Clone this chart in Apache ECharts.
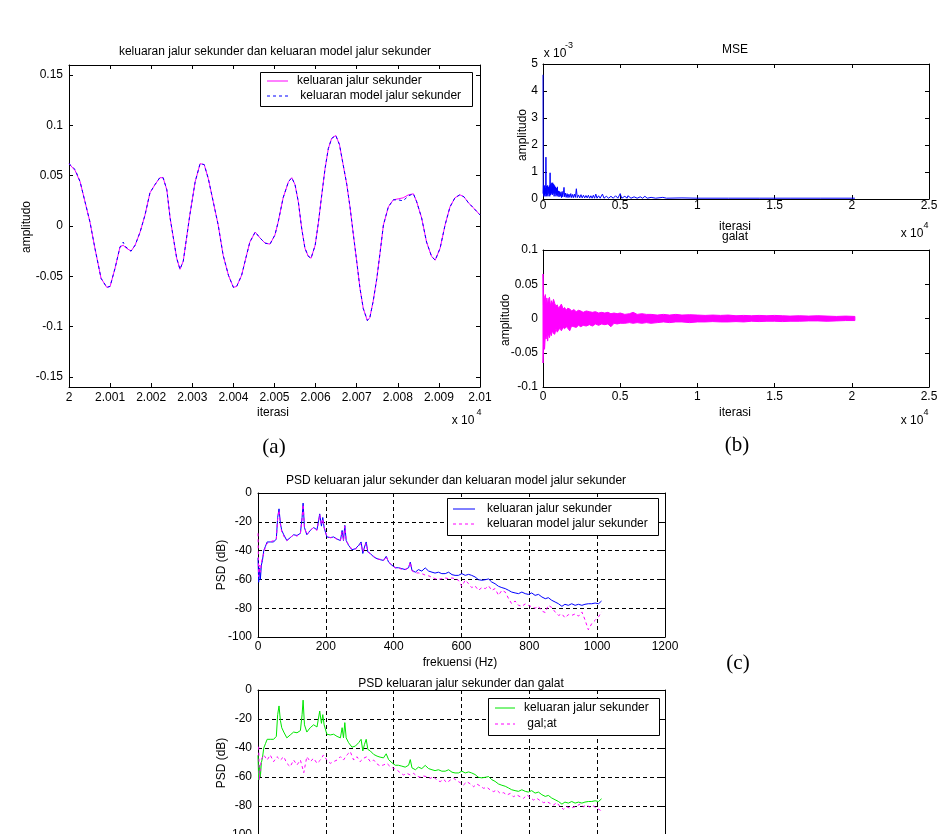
<!DOCTYPE html>
<html>
<head>
<meta charset="utf-8">
<title>keluaran jalur sekunder dan keluaran model jalur sekunder</title>
<script src="https://cdn.jsdelivr.net/npm/echarts@6.0.0/dist/echarts.min.js"></script>
<style>
html, body { margin: 0; padding: 0; background: #fff; }
#chart { width: 952px; height: 834px; }
</style>
</head>
<body>
<div id="chart"></div>
<script>
// (a) iterasi offset from 20000, output of secondary path and its model
const iterA = [0, 1.5, 2.7, 3.9, 5.1, 6.3, 7.8, 9.2, 10, 11.2, 12.4, 13.2, 13.6, 15.1, 16.1, 17.3, 18.5, 19.7, 20.9, 22.1,
  22.9, 23.8, 24.6, 25.4, 26.2, 27, 27.8, 28.6, 29.4, 30.7, 31.9, 32.9, 33.9, 35.1, 36.3, 37.5, 38.8, 40, 40.8, 42,
  43.2, 44, 45.3, 46.5, 47.7, 48.9, 50.1, 50.9, 52.1, 53.4, 54.2, 55, 55.8, 56.6, 57.4, 58.2, 58.9, 59.9, 60.7, 61.5,
  62.3, 63.1, 63.9, 64.9, 65.8, 66.7, 67.6, 68.4, 69.2, 70, 70.8, 71.6, 72.6, 73.2, 74, 74.9, 75.7, 76.5, 77.7, 78.9,
  80.1, 81.3, 82.6, 83.8, 84.6, 85.8, 87, 88.2, 89.1, 90.3, 91.5, 92.7, 93.9, 95.1, 96.1, 97.2, 98.4, 100]
const outSec = [0.062, 0.055, 0.044, 0.024, 0.004, -0.022, -0.052, -0.061, -0.060, -0.042, -0.021, -0.019, -0.021, -0.025, -0.019, -0.006, 0.011, 0.033, 0.041, 0.048,
  0.048, 0.036, 0.008, -0.012, -0.032, -0.043, -0.035, -0.012, 0.011, 0.044, 0.062, 0.061, 0.047, 0.024, 0.001, -0.029, -0.049, -0.061, -0.060, -0.049,
  -0.029, -0.016, -0.006, -0.012, -0.017, -0.018, -0.009, 0.004, 0.028, 0.044, 0.048, 0.041, 0.024, -0.002, -0.022, -0.030, -0.032, -0.019, 0.004, 0.031,
  0.057, 0.077, 0.087, 0.090, 0.081, 0.061, 0.041, 0.018, -0.009, -0.035, -0.062, -0.082, -0.094, -0.091, -0.075, -0.052, -0.026, 0.001, 0.019, 0.026,
  0.027, 0.028, 0.031, 0.032, 0.024, 0.008, -0.016, -0.030, -0.034, -0.022, 0.001, 0.019, 0.028, 0.031, 0.029, 0.023, 0.018, 0.011]
const outModel = [0.062, 0.056, 0.044, 0.024, 0.004, -0.022, -0.052, -0.061, -0.060, -0.042, -0.021, -0.016, -0.020, -0.025, -0.019, -0.006, 0.011, 0.033, 0.041, 0.048,
  0.048, 0.036, 0.008, -0.012, -0.032, -0.043, -0.035, -0.012, 0.011, 0.044, 0.062, 0.061, 0.047, 0.024, 0.001, -0.029, -0.049, -0.061, -0.060, -0.049,
  -0.029, -0.016, -0.006, -0.012, -0.017, -0.018, -0.009, 0.004, 0.028, 0.044, 0.048, 0.041, 0.024, -0.002, -0.022, -0.030, -0.032, -0.019, 0.004, 0.031,
  0.057, 0.077, 0.087, 0.090, 0.081, 0.061, 0.041, 0.018, -0.009, -0.035, -0.062, -0.082, -0.094, -0.091, -0.075, -0.052, -0.026, 0.001, 0.019, 0.026,
  0.026, 0.025, 0.030, 0.032, 0.024, 0.008, -0.016, -0.030, -0.034, -0.022, 0.001, 0.019, 0.028, 0.031, 0.029, 0.023, 0.018, 0.011]
const ticksA = [-0.15, -0.1, -0.05, 0, 0.05, 0.1, 0.15]

// (b) MSE (x 10^-3), peaks and troughs
const mseIter = [0, 15, 30, 50, 70, 90, 110, 130, 150, 170, 190, 210, 230, 260, 290, 320, 350, 380, 410, 440,
  460, 480, 510, 540, 570, 600, 630, 660, 690, 720, 750, 780, 810, 840, 870, 900, 930, 960, 1000, 1040,
  1080, 1120, 1160, 1200, 1240, 1280, 1330, 1360, 1400, 1450, 1500, 1560, 1620, 1680, 1740, 1800, 1860, 1920, 1980, 2040,
  2100, 2160, 2220, 2300, 2380, 2460, 2540, 2620, 2700, 2780, 2860, 2940, 3020, 3100, 3180, 3260, 3340, 3420, 3500, 3600,
  3700, 3850, 3950, 4100, 4250, 4400, 4550, 4700, 4850, 5000, 5100, 5300, 5450, 5500, 5700, 5900, 6100, 6300, 6450, 6600,
  6750, 7000, 7300, 7760, 8000, 9000, 10000, 12000, 14000, 16000, 18000, 20200]
const mseVal = [4.6, 0.2, 0.5, 0.1, 0.45, 0.15, 0.5, 0.1, 0.4, 0.2, 1.55, 0.1, 0.48, 0.15, 0.5, 0.1, 0.45, 0.2, 0.5, 0.1,
  0.97, 0.15, 0.55, 0.2, 0.6, 0.15, 0.6, 0.2, 0.55, 0.1, 0.5, 0.2, 0.45, 0.1, 0.4, 0.15, 0.45, 0.1, 0.3, 0.08,
  0.28, 0.1, 0.25, 0.05, 0.28, 0.08, 0.25, 0.43, 0.08, 0.22, 0.06, 0.2, 0.05, 0.18, 0.06, 0.2, 0.05, 0.17, 0.05, 0.18,
  0.06, 0.38, 0.05, 0.15, 0.04, 0.16, 0.04, 0.14, 0.04, 0.13, 0.04, 0.14, 0.03, 0.12, 0.03, 0.14, 0.03, 0.18, 0.03, 0.12,
  0.03, 0.18, 0.03, 0.1, 0.03, 0.1, 0.03, 0.12, 0.03, 0.2, 0.03, 0.1, 0.03, 0.12, 0.03, 0.08, 0.03, 0.08, 0.03, 0.1,
  0.03, 0.06, 0.03, 0.06, 0.03, 0.04, 0.03, 0.03, 0.03, 0.03, 0.03, 0.03]

// (b) galat envelope
const galatIter = [0, 30, 60, 100, 150, 200, 250, 300, 350, 420, 480, 540, 600, 680, 760, 840, 920, 1000, 1100, 1190,
  1300, 1400, 1500, 1600, 1730, 1850, 2000, 2150, 2300, 2450, 2600, 2800, 3000, 3200, 3400, 3600, 3800, 4000, 4200, 4400,
  4600, 4800, 5000, 5300, 5600, 5840, 6100, 6400, 6700, 7000, 7400, 7800, 8200, 8600, 9000, 9500, 10000, 10500, 11000, 11500,
  12000, 12500, 13000, 13500, 14000, 14500, 15000, 15500, 16000, 16600, 17200, 17800, 18400, 19000, 19600, 20200]
const galatHi = [0.065, 0.02, 0.033, 0.025, 0.035, 0.022, 0.03, 0.02, 0.028, 0.031, 0.018, 0.026, 0.02, 0.028, 0.022, 0.018, 0.02, 0.015, 0.018, 0.021,
  0.014, 0.016, 0.012, 0.015, 0.014, 0.011, 0.013, 0.01, 0.012, 0.011, 0.009, 0.011, 0.01, 0.009, 0.01, 0.008, 0.009, 0.008, 0.009, 0.007,
  0.008, 0.007, 0.008, 0.006, 0.007, 0.009, 0.006, 0.007, 0.006, 0.006, 0.005, 0.006, 0.005, 0.006, 0.005, 0.0055, 0.005, 0.0045, 0.005, 0.0045,
  0.005, 0.004, 0.0045, 0.004, 0.0045, 0.004, 0.0045, 0.004, 0.0035, 0.004, 0.0035, 0.004, 0.0035, 0.003, 0.0035, 0.003]
const galatLo = [-0.065, -0.04, -0.02, -0.045, -0.025, -0.03, -0.02, -0.033, -0.022, -0.028, -0.02, -0.025, -0.018, -0.022, -0.023, -0.015, -0.02, -0.017, -0.014, -0.018,
  -0.013, -0.015, -0.012, -0.014, -0.018, -0.011, -0.012, -0.013, -0.01, -0.012, -0.01, -0.011, -0.009, -0.011, -0.008, -0.01, -0.008, -0.009, -0.008, -0.012,
  -0.007, -0.008, -0.007, -0.007, -0.006, -0.007, -0.006, -0.007, -0.006, -0.007, -0.006, -0.005, -0.006, -0.005, -0.005, -0.006, -0.005, -0.005, -0.0045, -0.005,
  -0.005, -0.0045, -0.005, -0.004, -0.0045, -0.004, -0.004, -0.0045, -0.004, -0.004, -0.0035, -0.0035, -0.004, -0.0035, -0.003, -0.003]

// (c) PSD in dB
const psdFreq = [0, 2, 5, 7, 10, 13, 17, 22, 27, 36, 46, 54, 58, 62, 66, 70, 76, 85, 95, 105,
  115, 125, 130, 133, 137, 144, 154, 164, 174, 182, 187, 191, 195, 203, 213, 223, 233, 243, 248, 252,
  256, 260, 267, 277, 287, 297, 304, 309, 314, 319, 324, 331, 341, 351, 360, 370, 378, 385, 395, 405,
  414, 424, 434, 444, 449, 454, 464, 473, 483, 493, 503, 513, 522, 532, 542, 552, 562, 572, 581, 591,
  601, 611, 621, 630, 640, 650, 660, 670, 680, 689, 699, 709, 719, 729, 739, 748, 758, 768, 778, 788,
  797, 807, 817, 827, 837, 847, 856, 866, 876, 886, 896, 905, 915, 925, 935, 945, 955, 964, 974, 984,
  994, 1004, 1013]
const psdSec = [-45, -62, -52, -60, -50, -47, -40, -37, -34, -34, -34, -32, -17, -11, -21, -26, -29, -33, -31, -29,
  -29.5, -28, -17, -7, -24, -29, -26, -24, -25.5, -14.5, -23, -17, -24, -30.5, -31, -30.5, -32, -33, -26, -33,
  -22.5, -33, -36.3, -39.4, -38.7, -36.3, -34, -42, -37.5, -34, -41, -42, -44.4, -45.6, -46.3, -46.8, -44, -48, -50.2, -51.9,
  -51.9, -52.5, -53.2, -51.9, -48, -53.7, -55, -53.2, -54.2, -52, -54.2, -55, -55.6, -55, -56, -56, -55, -56.7, -57.2, -57.2,
  -56, -57.2, -56.5, -57.2, -58.3, -60.2, -60.6, -60.2, -59.7, -61.8, -63, -64.8, -65.7, -66.4, -67.6, -68.8, -69.4, -69.9, -68.8, -69.9,
  -70.4, -69.4, -71.1, -70.4, -72.2, -73.4, -72.7, -74.5, -75.7, -76.9, -78.7, -77.3, -78, -76.9, -78, -77.3, -78, -77.3, -76.9, -76.9,
  -76.4, -76.9, -75]
const psdModel = [-28, -58, -50, -55, -48, -45, -42, -37, -35, -34, -33, -32, -18, -12, -22, -27, -30, -33, -31, -29,
  -30, -28, -18, -8, -24, -29, -26, -24, -26, -15, -22, -18, -24, -30, -31, -31, -32, -33, -27, -33,
  -23, -33, -36, -39, -39, -37, -35, -41, -38, -35, -41, -42, -44, -46, -46, -47, -44, -48, -50, -52,
  -52, -53, -53, -52, -48, -54, -55.5, -55.5, -56, -57, -57.5, -58.5, -59.5, -60, -59.5, -59, -59.5, -59, -59.5, -60.6,
  -64.8, -60.5, -63, -65.7, -64.5, -67.6, -65.7, -66.4, -64.5, -67.6, -66.4, -71, -67.6, -68.8, -73.4, -76.9, -75, -78, -78.7, -77,
  -78, -79, -80, -78.7, -82, -83, -78, -79.5, -82.6, -85, -84, -86.6, -84.5, -85, -84, -85.5, -82.6, -88, -95, -90.7,
  -88.4, -86, -82.6]
const galatFreq = [2, 4, 9, 17, 27, 36, 46, 56, 66, 76, 85, 95, 105, 115, 125, 135, 144, 154, 164, 174,
  184, 193, 203, 213, 223, 233, 243, 252, 262, 272, 282, 292, 301, 311, 321, 331, 341, 351, 360, 370,
  380, 390, 400, 410, 419, 429, 439, 449, 459, 468, 478, 488, 498, 508, 518, 527, 537, 547, 557, 567,
  577, 586, 596, 606, 616, 626, 636, 645, 655, 665, 675, 685, 694, 704, 714, 724, 734, 744, 753, 763,
  773, 783, 793, 802, 812, 822, 832, 842, 852, 861, 871, 881, 891, 901, 910, 920, 930, 940, 950, 959,
  969, 979, 989, 999, 1009, 1016]
const psdGalat = [-39.1, -62.1, -48.3, -44.8, -48.3, -44.8, -49.4, -46, -48.3, -46, -50.6, -52.9, -48.3, -51.7, -48.3, -57, -46, -49.4, -47.1, -50.6,
  -48.3, -44.8, -48.3, -50.6, -49.4, -48.3, -46, -48.3, -44.8, -42.5, -48.3, -46, -49.4, -47.1, -46, -49.4, -48.3, -51, -52.4, -51.7,
  -50.6, -52.9, -54, -55.2, -57, -58.6, -57.5, -58.6, -57.5, -59.3, -60.2, -59.3, -59.8, -60.9, -59.8, -62.1, -63.2, -61.6, -63.9, -62.1,
  -60.9, -62.5, -63.9, -65.5, -63.2, -64.8, -66.7, -64.8, -66.2, -67.8, -67.1, -69, -70.1, -69, -71.3, -70.8, -72.4, -71.3, -73.6, -72.4,
  -73.6, -74.7, -72.4, -74, -75.9, -74.7, -76.3, -77.7, -77, -78.2, -79.3, -77.7, -80.5, -82.3, -80.5, -81.6, -80.9, -80, -78.6, -80.5,
  -79.3, -80.9, -80, -81.6, -82.8, -84.6]

const FONT = 'Liberation Sans, Arial, sans-serif'
const SERIF = 'Liberation Serif, Times New Roman, serif'
const zip = (xs, ys, off) => xs.map((x, i) => [x + (off || 0), ys[i]])

const gridBox = (left, top, width, height) => ({ left, top, width, height, outerBoundsMode: 'none', containLabel: false })
const grids = [
    gridBox(69, 65, 411, 322),   // a
    gridBox(543, 64, 386, 135),  // b MSE
    gridBox(543, 250, 386, 137), // b galat
    gridBox(258, 493, 407, 144), // c PSD 1
    gridBox(258, 690, 407, 145), // c PSD 2
]

const line = { show: true, onZero: false, lineStyle: { color: '#000', width: 1 } }
const tick = (custom) => ({ show: true, inside: true, length: 4, lineStyle: { color: '#000' }, customValues: custom })
const gridLine = { show: true, lineStyle: { color: '#000', width: 1, type: [4, 3] } }
const plain = v => String(v)

function axisPair(dir, gi, o) {
    const base = {
        type: 'value', gridIndex: gi, min: o.min, max: o.max, interval: o.interval,
        axisLine: line, axisTick: tick(o.custom),
    }
    const main = Object.assign({}, base, {
        position: dir === 'x' ? 'bottom' : 'left',
        splitLine: o.grid ? gridLine : { show: false },
        axisLabel: {
            show: true, color: '#000', fontSize: 12, fontFamily: FONT, margin: o.margin,
            formatter: o.fmt || plain, customValues: o.custom, showMinLabel: true, showMaxLabel: true
        }
    })
    const other = Object.assign({}, base, {
        position: dir === 'x' ? 'top' : 'right',
        splitLine: { show: false }, axisLabel: { show: false }
    })
    return [main, other]
}

const xAxes = [].concat(
    axisPair('x', 0, { min: 20000, max: 20100, interval: 10, margin: 5, fmt: v => String(+(v / 1e4).toFixed(3)) }),
    axisPair('x', 1, { min: 0, max: 25000, interval: 5000, margin: 1, fmt: v => String(v / 1e4) }),
    axisPair('x', 2, { min: 0, max: 25000, interval: 5000, margin: 4, fmt: v => String(v / 1e4) }),
    axisPair('x', 3, { min: 0, max: 1200, interval: 200, margin: 4, grid: true }),
    axisPair('x', 4, { min: 0, max: 1200, interval: 200, margin: 4, grid: true })
)
const yAxes = [].concat(
    axisPair('y', 0, { min: -0.16, max: 0.16, custom: ticksA, margin: 6, fmt: v => String(+v.toFixed(2)) }),
    axisPair('y', 1, { min: 0, max: 5, interval: 1, margin: 5 }),
    axisPair('y', 2, { min: -0.1, max: 0.1, interval: 0.05, margin: 5, fmt: v => String(+v.toFixed(2)) }),
    axisPair('y', 3, { min: -100, max: 0, interval: 20, margin: 6, grid: true }),
    axisPair('y', 4, { min: -100, max: 0, interval: 20, margin: 6, grid: true })
)

const lineSeries = (gi, data, color, dash, extra) => Object.assign({
    type: 'line', xAxisIndex: gi * 2, yAxisIndex: gi * 2, data: data,
    showSymbol: false, symbol: 'none', smooth: false, animation: false,
    lineStyle: { color: color, width: 1, type: dash ? [3, 3] : 'solid' }
}, extra || {})

// galat band drawn as one polygon between upper and lower envelope
const galatBand = {
    type: 'custom', xAxisIndex: 4, yAxisIndex: 4, animation: false,
    data: galatIter.map((x, i) => [x, galatHi[i], galatLo[i]]),
    encode: { x: 0, y: [1, 2] },
    renderItem: function (params, api) {
        if (params.dataIndex !== 0) return null
        const up = galatIter.map((x, i) => api.coord([x, galatHi[i]]))
        const down = galatIter.map((x, i) => api.coord([x, galatLo[i]])).reverse()
        return {
            type: 'polygon', shape: { points: up.concat(down) },
            style: { fill: '#ff00ff', stroke: '#ff00ff', lineWidth: 1 }
        }
    }
}

const series = [
    lineSeries(0, zip(iterA, outSec, 20000), '#ff00ff', false),
    lineSeries(0, zip(iterA, outModel, 20000), '#0000ff', true),
    lineSeries(1, zip(mseIter, mseVal), '#0000ff', false),
    galatBand,
    lineSeries(3, zip(psdFreq, psdSec), '#0000ff', false),
    lineSeries(3, zip(psdFreq, psdModel), '#ff00ff', true),
    lineSeries(4, zip(psdFreq, psdSec), '#00e600', false),
    lineSeries(4, zip(galatFreq, psdGalat), '#ff00ff', true),
]

const txt = (text, x, y, size, font) => ({
    type: 'text', x: x, y: y, z: 100,
    style: { text: text, fill: '#000', font: (size || 12) + 'px ' + (font || FONT), align: 'center', verticalAlign: 'middle' }
})
const vtxt = (text, x, y) => Object.assign(txt(text, x, y, 12), { rotation: Math.PI / 2 })
const seg = (x1, x2, y, color, dash) => ({
    type: 'line', z: 101, shape: { x1: x1, y1: y, x2: x2, y2: y },
    style: { stroke: color, lineWidth: 1, lineDash: dash ? [3, 3] : null }
})
const box = (x, y, w, h) => ({
    type: 'rect', z: 100, shape: { x: x, y: y, width: w, height: h },
    style: { fill: '#fff', stroke: '#000', lineWidth: 1 }
})
const ltxt = (text, x, y) => ({
    type: 'text', x: x, y: y, z: 101,
    style: { text: text, fill: '#000', font: '12px ' + FONT, align: 'left', verticalAlign: 'middle' }
})

const graphics = [
    // (a)
    txt('keluaran jalur sekunder dan keluaran model jalur sekunder', 275, 52),
    vtxt('amplitudo', 27, 227),
    txt('iterasi', 273, 413),
    txt('x 10', 463, 421), txt('4', 479, 413, 9),
    txt('(a)', 274, 447, 21, SERIF),
    box(260.5, 72.5, 212, 34),
    seg(267, 288, 81, '#ff00ff', false), ltxt('keluaran jalur sekunder', 297, 81),
    seg(267, 288, 96, '#0000ff', true), ltxt(' keluaran model jalur sekunder', 297, 96),
    // (b)
    txt('MSE', 735, 50),
    txt('x 10', 555, 54), txt('-3', 569, 46, 9),
    vtxt('amplitudo', 523, 135),
    txt('iterasi', 735, 227),
    txt('galat', 735, 237),
    txt('x 10', 912, 234), txt('4', 926, 226, 9),
    vtxt('amplitudo', 506, 320),
    txt('iterasi', 735, 413),
    txt('x 10', 912, 421), txt('4', 926, 413, 9),
    txt('(b)', 737, 445, 21, SERIF),
    // (c)
    txt('PSD keluaran jalur sekunder dan keluaran model jalur sekunder', 456, 481),
    vtxt('PSD (dB)', 222, 565),
    txt('frekuensi (Hz)', 460, 663),
    box(447.5, 498.5, 211, 37),
    seg(453, 475, 509, '#0000ff', false), ltxt('keluaran jalur sekunder', 487, 509),
    seg(453, 475, 524, '#ff00ff', true), ltxt('keluaran model jalur sekunder', 487, 524),
    txt('PSD keluaran jalur sekunder dan galat', 461, 684),
    vtxt('PSD (dB)', 222, 763),
    box(488.5, 698.5, 171, 37),
    seg(495, 515, 708, '#00e600', false), ltxt('keluaran jalur sekunder', 524, 708),
    seg(495, 515, 724, '#ff00ff', true), ltxt(' gal;at', 524, 724),
    txt('(c)', 738, 663, 21, SERIF),
]

const options = {
    backgroundColor: '#fff',
    animation: false,
    grid: grids,
    xAxis: xAxes,
    yAxis: yAxes,
    series: series,
    graphic: graphics
}

const chart = echarts.init(document.getElementById('chart'))
chart.setOption(options)
</script>
</body>
</html>
